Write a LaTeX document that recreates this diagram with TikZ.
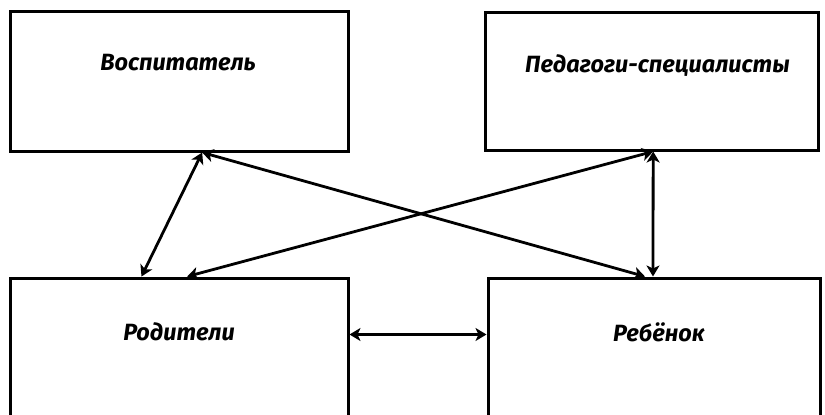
\documentclass[tikz,border=0pt]{standalone}
\usepackage{fontspec}
\setmainfont{Fira Sans}
\usetikzlibrary{arrows.meta}
\usetikzlibrary{calc}
\tikzset{
    box/.style={draw, line width=3pt, inner sep=0pt, minimum width=338pt, minimum height=140pt},
    lbl/.style={inner sep=0pt, anchor=base, font=\fontsize{23.5}{28}\selectfont\bfseries\itshape},
    arr/.style={{Stealth[length=11pt,width=13pt,inset=3pt]}-{Stealth[length=11pt,width=13pt,inset=3pt]}, line width=2.8pt},
}

\begin{document}
\begin{tikzpicture}[x=1pt,y=-1pt]
        \useasboundingbox (0,0) rectangle (825,415);
        \clip (0,0) rectangle (825,415);

        \node[box] (vosp) at (179,81) {};
        \node[box, minimum width=333pt, minimum height=138pt] (ped) at (651.5,81) {};
        \node[box, minimum height=150pt] (rod) at (179,353) {};
        \node[box, minimum width=332pt, minimum height=150pt] (reb) at (654,353) {};

        \node[lbl] (vospT) at ($(vosp.north)+(-1,61)$) {Воспитатель};
        \node[lbl] (pedT) at ($(ped.north)+(6,62)$) {Педагоги-специалисты};
        \node[lbl] (rodT) at ($(rod.north)+(0,64)$) {Родители};
        \node[lbl] (rebT) at ($(reb.north)+(5,65)$) {Ребёнок};

        \draw[arr] ($(vosp.south west)!0.568!(vosp.south east)$) -- ($(rod.north west)!0.39!(rod.north east)$);
        \draw[arr] ($(vosp.south west)!0.568!(vosp.south east)$) -- ($(reb.north west)!0.473!(reb.north east)$);
        \draw[arr] ($(ped.south west)!0.505!(ped.south east)$) -- ($(rod.north west)!0.524!(rod.north east)$);
        \draw[arr] ($(ped.south west)!0.505!(ped.south east)$) -- ($(reb.north west)!0.497!(reb.north east)$);
        \draw[arr] ($(rod.north east)+(0,58)$) -- ($(reb.north west)+(0,58)$);
\end{tikzpicture}
\end{document}
